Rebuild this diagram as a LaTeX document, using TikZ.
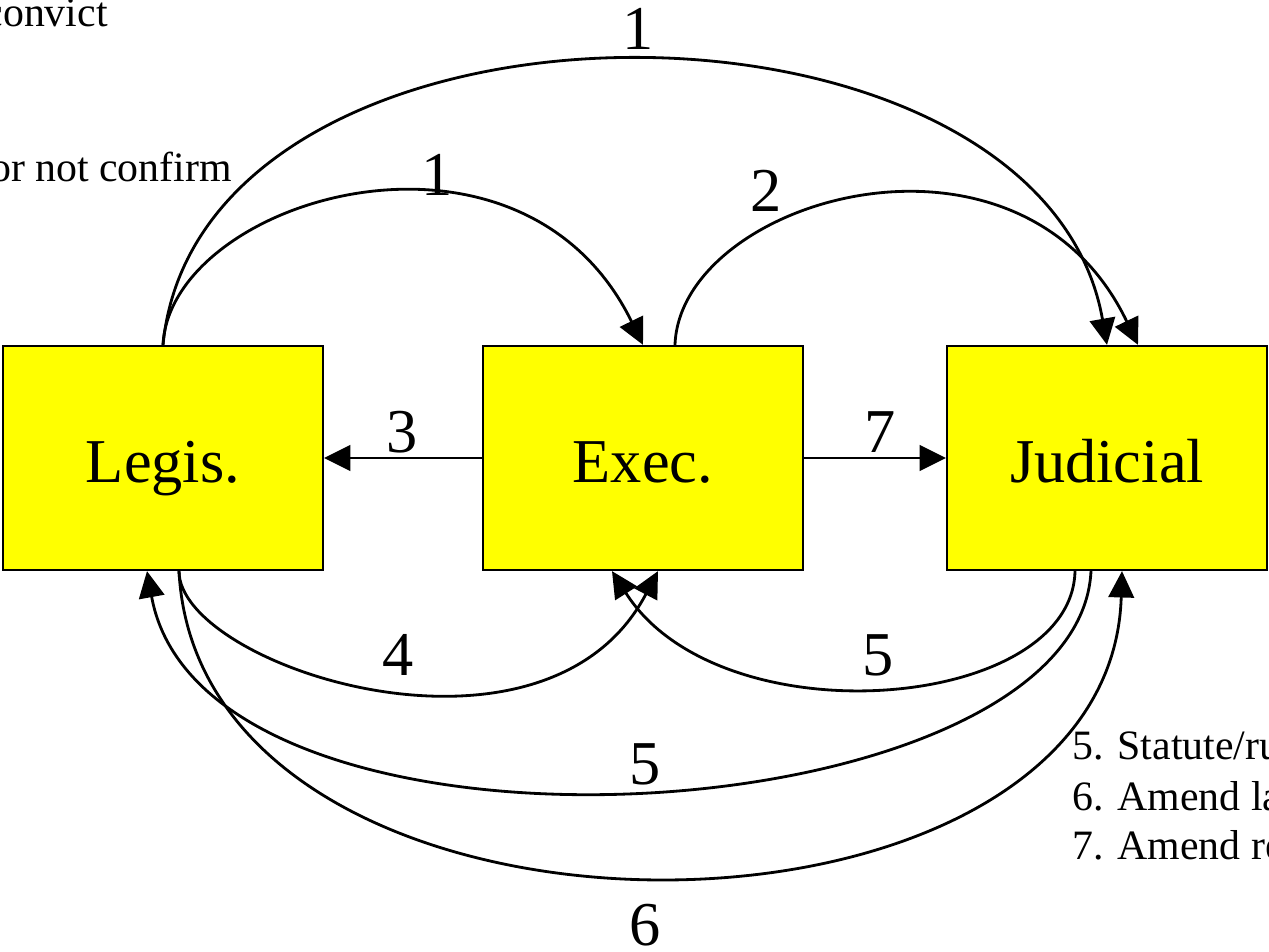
\documentclass[tikz,border=0pt]{standalone}
\usepackage{fontspec}
\setmainfont{Liberation Serif}
\usetikzlibrary{arrows.meta,calc}
\definecolor{boxyellow}{RGB}{255,255,0}
\begin{document}
\begin{tikzpicture}[x=0.02cm,y=-0.02cm,
  branch/.style={draw=black,line width=1.3pt,fill=boxyellow,minimum width=6.4cm,
    minimum height=4.48cm,inner sep=0pt,text height=31pt,text depth=3.5pt,
    font=\fontsize{35.5}{40}\selectfont},
  link/.style={line width=1.6pt,-{Triangle[length=15pt,width=14.5pt]}},
  num/.style={font=\fontsize{35.5}{40}\selectfont,inner sep=0pt,anchor=base},
  note/.style={font=\fontsize{23.8}{28}\selectfont,inner sep=0pt}]
\useasboundingbox (0,0) rectangle (1269,952);
\clip (0,0) rectangle (1269,952);

% the three branches
\node[branch] (L) at (163,458) {Legis.};
\node[branch] (E) at (643,458) {Exec.};
\node[branch] (J) at (1107,458) {Judicial};

% arcs over the top
\draw[link] (L.north) .. controls +(37,-379) and +(-67,-379) .. (J.north);
\draw[link] (L.north) .. controls +(7,-146) and +(-123,-251) .. (E.north);
\draw[link] ($(E.north)+(32,0)$) .. controls +(5,-146) and +(-118,-246) .. ($(J.north)+(31,0)$);

% straight links
\draw[link] (E.west) -- (L.east);
\draw[link] (E.east) -- (J.west);

% arcs underneath
\draw[link] ($(L.south)+(16,0)$) .. controls +(0,95) and +(-113,215) .. ($(E.south)+(15,0)$);
\draw[link] ($(J.south)+(-32,0)$) .. controls +(-3,140) and +(108,170) .. ($(E.south)+(-31,0)$);
\draw[link] ($(J.south)+(-16,0)$) .. controls +(-13,265) and +(58,320) .. ($(L.south)+(-16,0)$);
\draw[link] ($(L.south)+(16,0)$) .. controls +(21,410) and +(-12,405) .. ($(J.south)+(15,0)$);

% arc numbers
\node[num] (n1) at (638,50) {1};
\node[num] (n1b) at (437,196) {1};
\node[num] (n2) at (766,212) {2};
\node[num] (n3) at (402,453) {3};
\node[num] (n7) at (880,453) {7};
\node[num] (n4) at (398,676) {4};
\node[num] (n5a) at (878,676) {5};
\node[num] (n5b) at (645,785) {5};
\node[num] (n6) at (645,946) {6};

% key text
\node[note,anchor=base east] (k1) at (108,27) {convict};
\node[note,anchor=base east] (k2) at (232,182) {or not confirm};
\node[note,anchor=base west] (k5) at (1072,760) {5. Statute/ru};
\node[note,anchor=base west] (k6) at (1072,811) {6. Amend la};
\node[note,anchor=base west] (k7) at (1072,860) {7. Amend re};
\end{tikzpicture}
\end{document}
